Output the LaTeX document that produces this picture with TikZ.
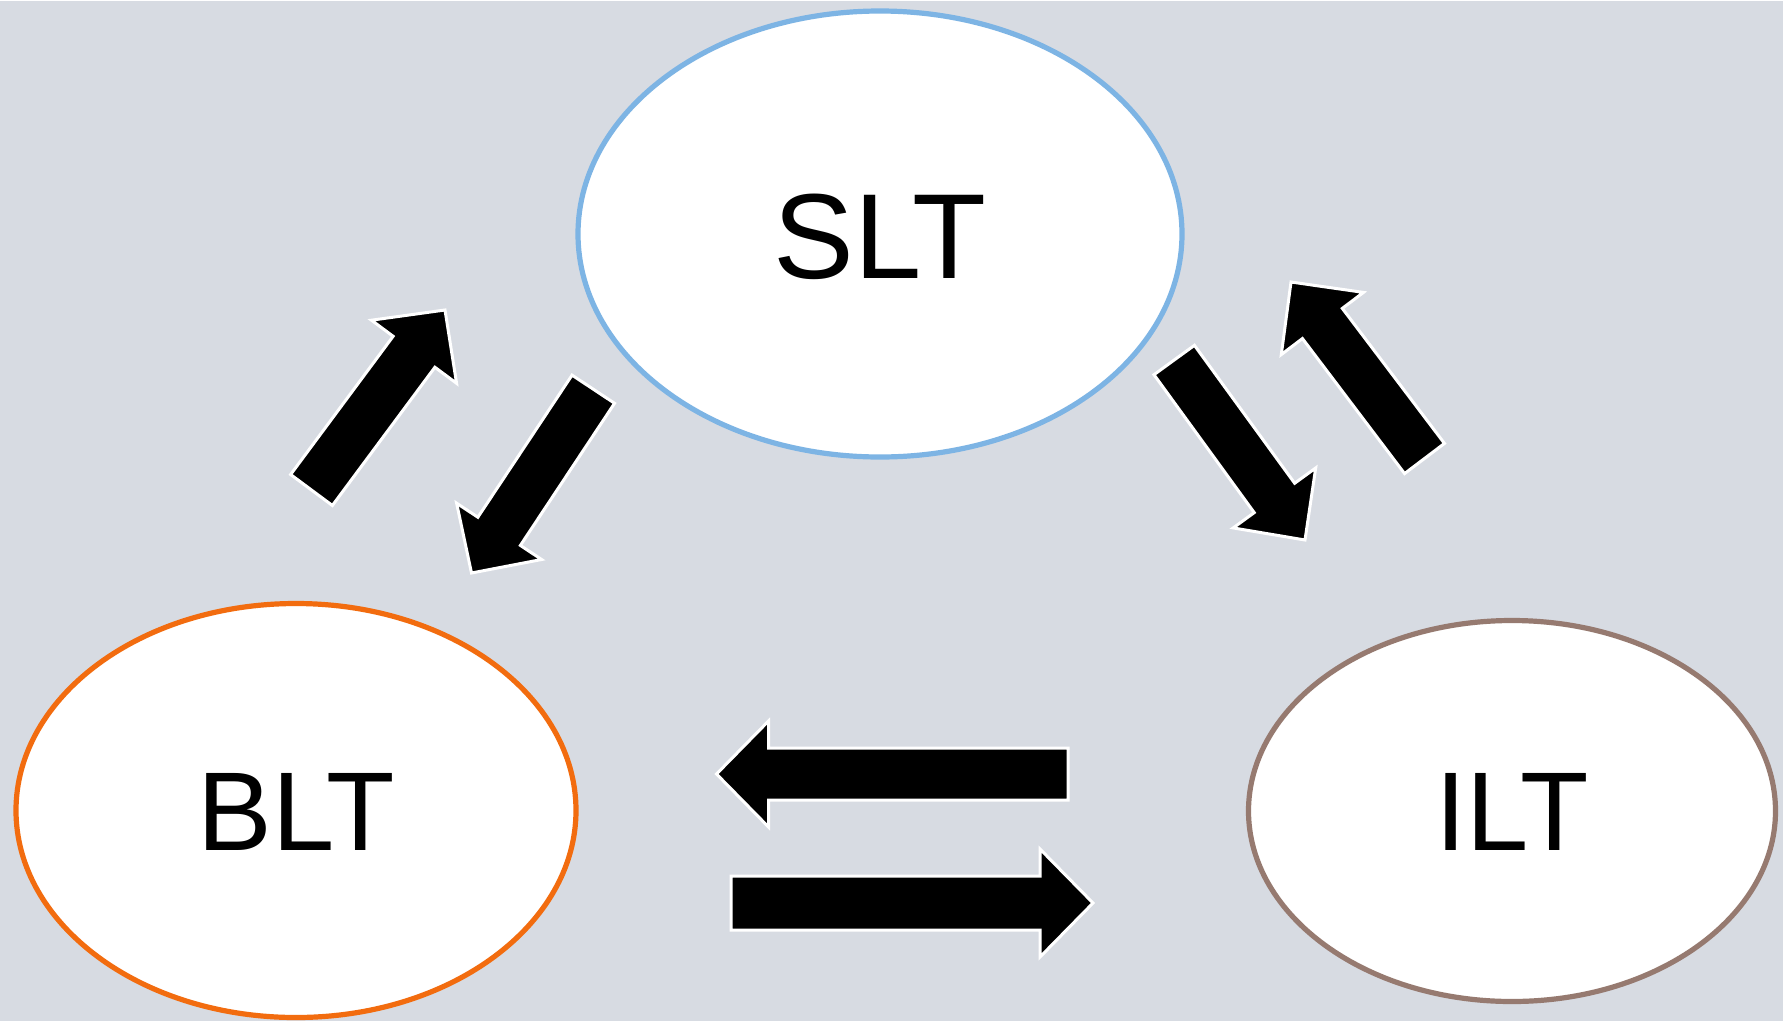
\documentclass[tikz,border=0pt]{standalone}
\usepackage{fontspec}
\setmainfont{Liberation Sans}
\usetikzlibrary{shapes.geometric,calc}
\definecolor{bg}{RGB}{215,219,226}
\definecolor{sltc}{RGB}{125,180,228}
\definecolor{bltc}{RGB}{242,108,15}
\definecolor{iltc}{RGB}{150,122,112}
\tikzset{
  bubble/.style={ellipse, draw, fill=white, line width=5.2pt, inner sep=0pt, outer sep=0pt},
  blockarrow/.style={fill=black, draw=white, line width=3pt, line join=miter},
}
\newcommand{\myblockarrow}[5]{%
  \coordinate (hb) at ($(#2)!#5!(#1)$);
  \filldraw[blockarrow] ($(#1)!#3!90:(#2)$) -- ($(hb)!#3!-90:(#1)$) -- ($(hb)!#4!-90:(#1)$) -- (#2) -- ($(hb)!#4!90:(#1)$) -- ($(hb)!#3!90:(#1)$) -- ($(#1)!#3!-90:(#2)$) -- cycle;
}
\begin{document}
\begin{tikzpicture}[x=1pt,y=-1pt]
\useasboundingbox (0,0) rectangle (1783,1021);
\fill[bg] (0,0) rectangle (1783,1021);
\fill[white] (0,0) rectangle (1783,1.2);
% nodes
\node[bubble, draw=sltc, minimum width=604pt, minimum height=446pt, text height=88pt, text depth=0pt, font=\fontsize{121}{122}\selectfont] (slt) at (880,234) {SLT};
\node[bubble, draw=bltc, minimum width=560pt, minimum height=414pt, text height=79.5pt, text depth=0pt, font=\fontsize{112}{113}\selectfont] (blt) at (296,810.5) {BLT};
\node[bubble, draw=iltc, minimum width=527pt, minimum height=381pt, text height=79.5pt, text depth=0pt, font=\fontsize{112}{113}\selectfont] (ilt) at (1512,811) {ILT};
% arrow end points
\coordinate (a1t) at (311.5,490);   \coordinate (a1h) at (445,310);
\coordinate (a2t) at (593.3,389.2); \coordinate (a2h) at (471.5,573);
\coordinate (a3t) at (1174.2,360);  \coordinate (a3h) at (1305,540);
\coordinate (a4t) at (1424.5,458.5);\coordinate (a4h) at (1291,282);
\coordinate (a5t) at (1068,774);    \coordinate (a5h) at (716.5,774);
\coordinate (a6t) at (731,903);     \coordinate (a6h) at (1093,903);
% block arrows
\myblockarrow{a1t}{a1h}{26pt}{53pt}{52pt}
\myblockarrow{a2t}{a2h}{25.5pt}{51pt}{50pt}
\myblockarrow{a3t}{a3h}{25pt}{51pt}{52pt}
\myblockarrow{a4t}{a4h}{25pt}{51.5pt}{52pt}
\myblockarrow{a5t}{a5h}{26pt}{53pt}{52pt}
\myblockarrow{a6t}{a6h}{27pt}{54pt}{53pt}
\end{tikzpicture}
\end{document}
